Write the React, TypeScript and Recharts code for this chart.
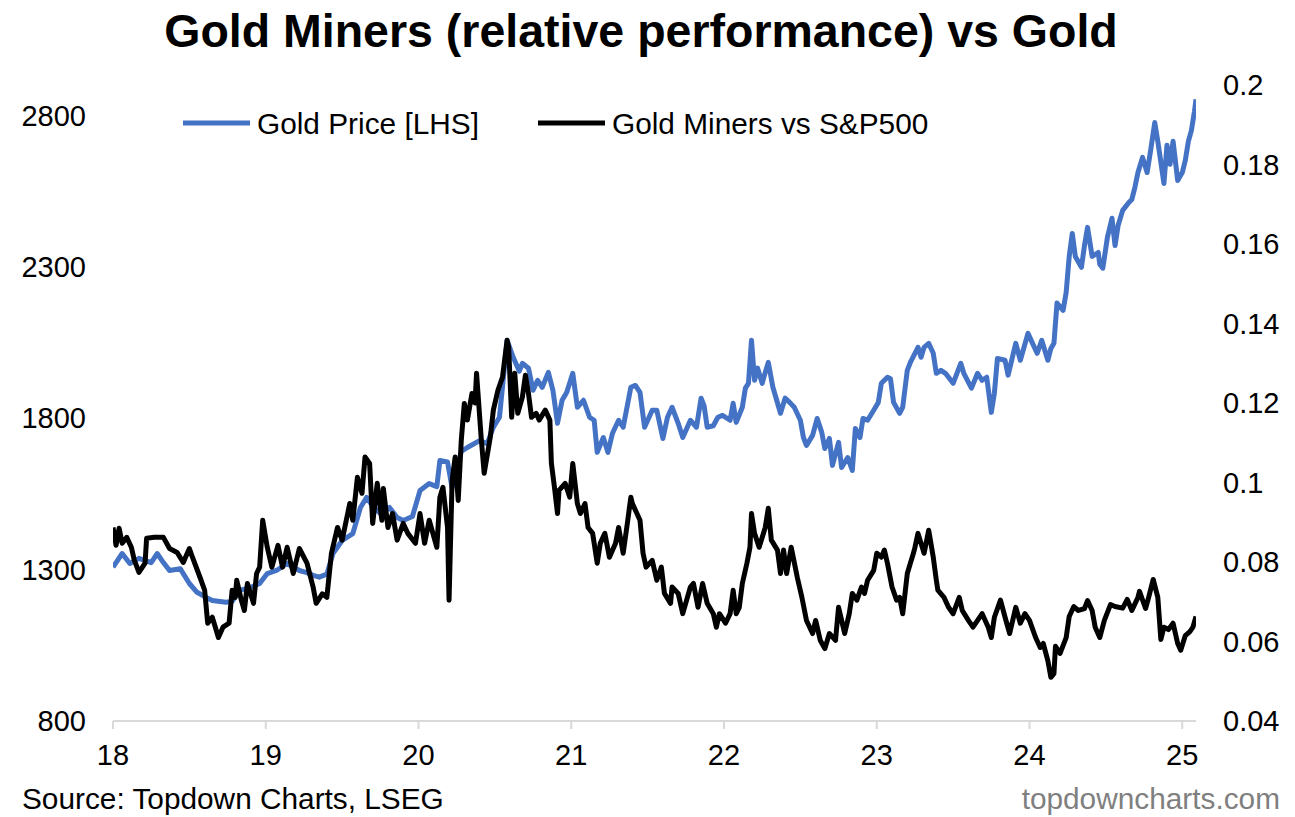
import { LineChart, Line, XAxis, YAxis } from "recharts";

// gold price, USD/oz (left axis); x = year (18 = 2018)
const goldYears = [
  18.0, 18.06, 18.11, 18.17, 18.25, 18.29, 18.32, 18.37, 18.44, 18.5, 18.55, 18.61, 18.65, 18.74, 18.78, 18.83,
  18.9, 18.96, 19.01, 19.07, 19.14, 19.22, 19.27, 19.31, 19.35, 19.4, 19.44, 19.5, 19.57, 19.62, 19.66, 19.7,
  19.75, 19.81, 19.86, 19.9, 19.96, 20.01, 20.07, 20.12, 20.14, 20.19, 20.22, 20.28, 20.32, 20.4, 20.45, 20.49,
  20.53, 20.58, 20.62, 20.66, 20.68, 20.72, 20.75, 20.78, 20.81, 20.85, 20.88, 20.91, 20.94, 20.97, 21.01, 21.04,
  21.08, 21.12, 21.15, 21.17, 21.21, 21.24, 21.27, 21.31, 21.34, 21.39, 21.42, 21.45, 21.48, 21.53, 21.56, 21.6,
  21.63, 21.66, 21.7, 21.73, 21.78, 21.82, 21.85, 21.87, 21.89, 21.93, 21.96, 21.99, 22.04, 22.06, 22.08, 22.12,
  22.14, 22.16, 22.18, 22.2, 22.22, 22.25, 22.27, 22.29, 22.32, 22.37, 22.4, 22.43, 22.46, 22.5, 22.52, 22.54,
  22.58, 22.61, 22.64, 22.66, 22.69, 22.71, 22.75, 22.77, 22.81, 22.84, 22.86, 22.89, 22.91, 22.94, 22.98, 23.01,
  23.03, 23.07, 23.09, 23.11, 23.15, 23.17, 23.2, 23.22, 23.25, 23.27, 23.29, 23.31, 23.34, 23.37, 23.39, 23.42,
  23.45, 23.5, 23.55, 23.57, 23.62, 23.66, 23.69, 23.72, 23.75, 23.77, 23.79, 23.84, 23.86, 23.91, 23.94, 23.99,
  24.02, 24.05, 24.08, 24.12, 24.14, 24.16, 24.18, 24.22, 24.24, 24.26, 24.28, 24.3, 24.34, 24.36, 24.38, 24.41,
  24.45, 24.46, 24.48, 24.51, 24.54, 24.56, 24.58, 24.61, 24.65, 24.67, 24.69, 24.71, 24.74, 24.77, 24.79, 24.82,
  24.84, 24.88, 24.9, 24.92, 24.94, 24.97, 25.0, 25.02, 25.04, 25.06, 25.08, 25.09,
];
const goldPrice = [
  1308, 1353, 1320, 1337, 1323, 1353, 1330, 1297, 1303, 1254, 1225, 1208, 1198, 1192, 1195, 1231,
  1241, 1254, 1287, 1297, 1320, 1297, 1290, 1281, 1275, 1285, 1353, 1396, 1419, 1505, 1538, 1510,
  1485, 1505, 1472, 1462, 1475, 1561, 1584, 1574, 1660, 1655, 1570, 1690, 1703, 1726, 1716, 1770,
  1803, 2057, 2001, 1955, 1981, 1965, 1892, 1925, 1902, 1951, 1892, 1783, 1859, 1885, 1948, 1836,
  1859, 1803, 1793, 1687, 1736, 1687, 1750, 1793, 1770, 1902, 1908, 1885, 1770, 1826, 1826, 1733,
  1803, 1836, 1783, 1736, 1793, 1770, 1866, 1840, 1770, 1775, 1803, 1809, 1793, 1849, 1786, 1836,
  1899, 1915, 2057, 1925, 1965, 1915, 1951, 1984, 1902, 1816, 1866, 1852, 1836, 1793, 1736, 1710,
  1743, 1799, 1753, 1700, 1733, 1644, 1720, 1637, 1670, 1627, 1766, 1736, 1799, 1793, 1826, 1852,
  1915, 1935, 1930, 1852, 1816, 1836, 1958, 1984, 2014, 2034, 2001, 2034, 2047, 2014, 1948, 1958,
  1948, 1915, 1981, 1948, 1899, 1948, 1925, 1935, 1819, 1882, 1997, 1991, 1942, 2047, 1991, 2080,
  2047, 2014, 2057, 1991, 2030, 2047, 2180, 2156, 2215, 2334, 2410, 2334, 2298, 2370, 2430, 2334,
  2347, 2308, 2295, 2397, 2460, 2370, 2436, 2486, 2512, 2522, 2562, 2611, 2661, 2611, 2674, 2776,
  2714, 2575, 2701, 2638, 2714, 2585, 2611, 2651, 2714, 2750, 2813, 2853,
];

// gold miners relative to S&P500 (right axis)
const minersYears = [
  18.0, 18.02, 18.04, 18.06, 18.09, 18.12, 18.14, 18.17, 18.21, 18.22, 18.27, 18.33, 18.37, 18.42, 18.46, 18.5,
  18.52, 18.57, 18.6, 18.62, 18.65, 18.67, 18.69, 18.72, 18.76, 18.78, 18.8, 18.81, 18.84, 18.86, 18.88, 18.92,
  18.94, 18.96, 18.98, 19.01, 19.04, 19.08, 19.11, 19.14, 19.18, 19.22, 19.27, 19.31, 19.33, 19.37, 19.4, 19.43,
  19.47, 19.5, 19.55, 19.57, 19.6, 19.63, 19.65, 19.68, 19.7, 19.73, 19.76, 19.77, 19.8, 19.83, 19.86, 19.9,
  19.93, 19.98, 20.01, 20.04, 20.07, 20.12, 20.14, 20.16, 20.19, 20.2, 20.22, 20.24, 20.26, 20.28, 20.3, 20.32,
  20.35, 20.37, 20.38, 20.41, 20.43, 20.47, 20.49, 20.52, 20.55, 20.58, 20.59, 20.61, 20.63, 20.65, 20.68, 20.7,
  20.72, 20.74, 20.77, 20.79, 20.83, 20.86, 20.87, 20.89, 20.91, 20.92, 20.96, 20.99, 21.01, 21.04, 21.06, 21.09,
  21.11, 21.14, 21.17, 21.19, 21.22, 21.25, 21.29, 21.31, 21.34, 21.37, 21.39, 21.4, 21.43, 21.45, 21.47, 21.49,
  21.53, 21.56, 21.59, 21.61, 21.65, 21.66, 21.7, 21.73, 21.78, 21.8, 21.83, 21.86, 21.89, 21.93, 21.95, 21.97,
  22.01, 22.04, 22.06, 22.08, 22.1, 22.12, 22.15, 22.17, 22.18, 22.2, 22.23, 22.27, 22.29, 22.31, 22.35, 22.37,
  22.39, 22.41, 22.44, 22.48, 22.51, 22.54, 22.58, 22.6, 22.63, 22.66, 22.69, 22.73, 22.75, 22.77, 22.79, 22.82,
  22.84, 22.87, 22.9, 22.92, 22.94, 22.98, 23.0, 23.03, 23.05, 23.07, 23.1, 23.13, 23.15, 23.17, 23.2, 23.22,
  23.24, 23.25, 23.27, 23.31, 23.34, 23.37, 23.39, 23.4, 23.44, 23.47, 23.5, 23.54, 23.56, 23.6, 23.63, 23.66,
  23.69, 23.73, 23.75, 23.77, 23.81, 23.84, 23.87, 23.91, 23.94, 23.97, 24.0, 24.04, 24.07, 24.09, 24.12, 24.14,
  24.16, 24.17, 24.2, 24.24, 24.26, 24.29, 24.32, 24.36, 24.38, 24.41, 24.43, 24.46, 24.49, 24.53, 24.56, 24.61,
  24.64, 24.67, 24.71, 24.72, 24.76, 24.78, 24.81, 24.84, 24.86, 24.88, 24.91, 24.94, 24.97, 24.99, 25.02, 25.05,
  25.07, 25.09,
];
const minersRatio = [
  0.0887, 0.0842, 0.0885, 0.0847, 0.0862, 0.0837, 0.0804, 0.0774, 0.0797, 0.086, 0.0862, 0.0862, 0.0834, 0.0824, 0.0799, 0.0834,
  0.0812, 0.0761, 0.0729, 0.0646, 0.0661, 0.0636, 0.061, 0.0636, 0.0646, 0.0729, 0.0711, 0.0754, 0.0704, 0.0678, 0.0746, 0.0696,
  0.0771, 0.0787, 0.0905, 0.0837, 0.0787, 0.0842, 0.0787, 0.0837, 0.0771, 0.0834, 0.0797, 0.0737, 0.0696, 0.072, 0.0711, 0.0822,
  0.0887, 0.0855, 0.0947, 0.0905, 0.1013, 0.0973, 0.1064, 0.1048, 0.0897, 0.0998, 0.0905, 0.0985, 0.0887, 0.0922, 0.0855, 0.0897,
  0.0872, 0.0847, 0.0922, 0.0847, 0.0905, 0.0837, 0.0963, 0.0988, 0.0887, 0.0704, 0.1005, 0.1064, 0.0955, 0.1106, 0.1199, 0.1157,
  0.1224, 0.12, 0.1275, 0.1114, 0.1023, 0.1114, 0.1182, 0.1232, 0.1265, 0.1358, 0.1341, 0.1164, 0.1275, 0.1174, 0.1215, 0.127,
  0.1224, 0.1164, 0.1174, 0.1157, 0.1182, 0.1157, 0.1048, 0.0988, 0.0922, 0.098, 0.0998, 0.0963, 0.1048, 0.0947, 0.0922, 0.0947,
  0.0887, 0.0872, 0.0797, 0.0847, 0.0872, 0.0812, 0.0847, 0.0887, 0.0822, 0.0905, 0.0963, 0.0947, 0.0922, 0.0905, 0.0822, 0.0787,
  0.0804, 0.0754, 0.0787, 0.0721, 0.0696, 0.0737, 0.0721, 0.067, 0.0737, 0.0746, 0.0686, 0.0746, 0.0696, 0.067, 0.0636, 0.067,
  0.0646, 0.067, 0.0729, 0.067, 0.0686, 0.0746, 0.0797, 0.0837, 0.0922, 0.0872, 0.0837, 0.0887, 0.0935, 0.0855, 0.083, 0.0771,
  0.083, 0.0771, 0.0837, 0.0761, 0.0711, 0.0653, 0.062, 0.0653, 0.0603, 0.0582, 0.062, 0.0603, 0.0686, 0.0653, 0.062, 0.067,
  0.0721, 0.0704, 0.0737, 0.0721, 0.0754, 0.0779, 0.0822, 0.0812, 0.083, 0.0797, 0.0737, 0.0704, 0.0711, 0.067, 0.0771, 0.0797,
  0.0822, 0.0837, 0.0872, 0.0822, 0.088, 0.0812, 0.0754, 0.0729, 0.0711, 0.0686, 0.067, 0.0711, 0.0678, 0.0653, 0.0636, 0.0653,
  0.067, 0.0636, 0.061, 0.0661, 0.0704, 0.0661, 0.062, 0.0686, 0.0646, 0.067, 0.0653, 0.061, 0.0585, 0.0595, 0.0552, 0.051,
  0.0519, 0.0588, 0.057, 0.061, 0.0663, 0.0688, 0.0678, 0.0683, 0.0703, 0.0678, 0.0636, 0.061, 0.0653, 0.0693, 0.0688, 0.0684,
  0.0706, 0.0678, 0.0711, 0.0726, 0.0683, 0.0711, 0.0756, 0.0711, 0.0605, 0.0636, 0.063, 0.0646, 0.0595, 0.0578, 0.0615, 0.0625,
  0.0636, 0.0663,
];

const yearTicks = [18, 19, 20, 21, 22, 23, 24, 25];
const goldTicks = [800, 1300, 1800, 2300, 2800];
const ratioTicks = [0.04, 0.06, 0.08, 0.1, 0.12, 0.14, 0.16, 0.18, 0.2];

const goldData = goldYears.map((t, i) => ({ t, v: goldPrice[i] }));
const minersData = minersYears.map((t, i) => ({ t, v: minersRatio[i] }));

const FONT = '"Liberation Sans", Arial, sans-serif';
const BLUE = "#4472C4";
const tickStyle = { fontSize: 29, fill: "#000", fontFamily: FONT };

const App = () => {
  return (
    <div style={{ position: "absolute", left: 0, top: 0, width: 1295, height: 817, background: "#fff", fontFamily: FONT }}>
      <LineChart width={1295} height={817} margin={{ top: 85, right: 0, bottom: 36, left: 0 }}>
        <XAxis
          xAxisId="x"
          dataKey="t"
          type="number"
          domain={[18, 25.09]}
          ticks={yearTicks}
          allowDataOverflow
          height={60}
          stroke="#d9d9d9"
          strokeWidth={2}
          tickSize={8}
          tickMargin={15}
          tick={tickStyle}
        />
        <YAxis
          yAxisId="gold"
          orientation="left"
          domain={[800, 2900]}
          ticks={goldTicks}
          allowDataOverflow
          width={113}
          axisLine={false}
          tickLine={false}
          tickSize={0}
          tickMargin={27}
          tick={tickStyle}
        />
        <YAxis
          yAxisId="ratio"
          orientation="right"
          domain={[0.04, 0.2]}
          ticks={ratioTicks}
          allowDataOverflow
          width={99}
          axisLine={false}
          tickLine={false}
          tickSize={0}
          tickMargin={27}
          tick={tickStyle}
          tickFormatter={(v: number) => String(Number(v.toFixed(2)))}
        />
        <Line
          xAxisId="x"
          yAxisId="gold"
          data={goldData}
          dataKey="v"
          type="linear"
          stroke={BLUE}
          strokeWidth={5}
          strokeLinejoin="round"
          dot={false}
          isAnimationActive={false}
        />
        <Line
          xAxisId="x"
          yAxisId="ratio"
          data={minersData}
          dataKey="v"
          type="linear"
          stroke="#000"
          strokeWidth={5}
          strokeLinejoin="round"
          dot={false}
          isAnimationActive={false}
        />
      </LineChart>
      <svg width={1295} height={817} style={{ position: "absolute", left: 0, top: 0, pointerEvents: "none" }}>
        <text x={641} y={47} textAnchor="middle" fontSize={46.5} fontWeight="bold" fontFamily={FONT} fill="#000">
          Gold Miners (relative performance) vs Gold
        </text>
        <line x1={183} y1={123} x2={250} y2={123} stroke={BLUE} strokeWidth={5} />
        <text x={257} y={134} fontSize={29.8} fontFamily={FONT} fill="#000">
          Gold Price [LHS]
        </text>
        <line x1={538} y1={123} x2={605} y2={123} stroke="#000" strokeWidth={5} />
        <text x={612} y={134} fontSize={29.8} fontFamily={FONT} fill="#000">
          Gold Miners vs S&amp;P500
        </text>
        <text x={22} y={809} fontSize={29.8} fontFamily={FONT} fill="#000">
          Source: Topdown Charts, LSEG
        </text>
        <text x={1280} y={809} textAnchor="end" fontSize={29.8} fontFamily={FONT} fill="#7f7f7f">
          topdowncharts.com
        </text>
      </svg>
    </div>
  );
};

export default App;
